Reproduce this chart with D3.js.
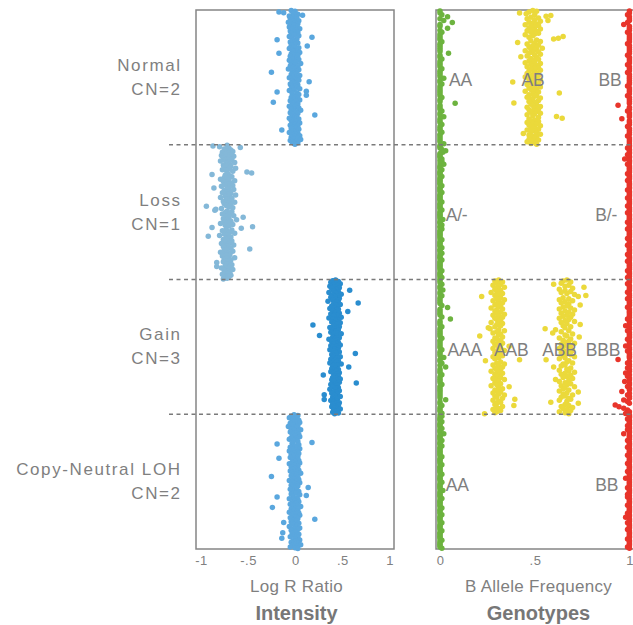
<!DOCTYPE html>
<html>
<head>
<meta charset="utf-8">
<script src="https://cdn.jsdelivr.net/npm/d3@7/dist/d3.min.js"></script>
<style>
  body { margin: 0; background: #fff; }
  svg text { font-family: "Liberation Sans", Arial, sans-serif; fill: #7f7f7f; }
</style>
</head>
<body>
<svg id="chart" width="633" height="625"></svg>
<script>
// Copy-number states, top to bottom
const rows = ["normal", "loss", "gain", "loh"];
const rowLabels = [["Normal", "CN=2"], ["Loss", "CN=1"], ["Gain", "CN=3"], ["Copy-Neutral LOH", "CN=2"]];

const lrrTicks = [-1, -0.5, 0, 0.5, 1];
const bafTicks = [0, 0.5, 1];

// Log R Ratio per SNP, in genomic order within each segment
const normalLRR = [
  -.04,.00,-.17,-.12,-.02,.03,.08,-.06,-.01,.02,
  -.05,.01,-.03,.04,-.02,-.07,.00,.03,-.04,-.01,
  .02,-.06,-.02,.05,-.03,.01,-.05,-.02,.03,-.04,
  .00,-.01,.04,-.06,.18,-.03,.02,-.19,-.02,.01,
  -.05,.03,-.02,.00,-.04,.13,-.01,.04,-.06,.02,
  -.03,.01,-.02,.05,-.17,-.04,.00,.03,-.05,-.01,
  .02,-.03,.04,-.06,-.01,.01,-.04,.06,-.02,.00,
  -.05,.03,-.02,.01,-.07,.04,-.03,.02,-.25,-.01,
  .00,-.04,.05,-.02,.02,-.06,.03,-.01,.04,-.03,
  .15,-.02,.01,-.05,.03,-.04,.00,.02,-.03,.05,
  -.01,-.06,.12,-.19,.02,-.03,.04,.12,-.02,.00,
  -.04,.03,-.01,.05,-.05,.01,-.23,-.02,.03,-.03,
  .02,-.06,.00,.04,-.02,-.04,.06,-.01,.01,-.05,
  .03,-.02,.21,-.03,.00,.02,-.06,.04,-.01,-.04,
  .01,-.03,.05,-.02,.00,-.05,.03,-.01,.02,-.04,
  .04,-.14,-.02,.01,-.06,.03,.00,-.03,.05,-.01,
  -.04,.02,-.02,.06,-.05,.01,-.03,.03,-.01,.00
];
const lossLRR = [
  -.72,-.87,-.80,-.58,-.70,-.75,-.68,-.73,-.66,-.77,
  -.71,-.74,-.69,-.78,-.65,-.72,-.76,-.70,-.67,-.74,
  -.79,-.71,-.64,-.73,-.69,-.76,-.72,-.68,-.75,-.63,
  -.70,-.77,-.73,-.66,-.51,-.46,-.71,-.88,-.74,-.69,
  -.67,-.75,-.72,-.79,-.70,-.64,-.76,-.73,-.68,-.71,
  -.74,-.66,-.78,-.70,-.86,-.72,-.65,-.75,-.69,-.73,
  -.77,-.68,-.71,-.63,-.74,-.70,-.79,-.67,-.73,-.72,
  -.69,-.76,-.64,-.71,-.75,-.68,-.73,-.94,-.70,-.66,
  -.78,-.84,-.85,-.72,-.67,-.74,-.69,-.77,-.71,-.65,
  -.73,-.55,-.70,-.76,-.62,-.72,-.68,-.75,-.71,-.79,
  -.66,-.74,-.70,-.45,-.88,-.57,-.73,-.67,-.77,-.72,
  -.69,-.64,-.75,-.71,-.80,-.92,-.68,-.73,-.70,-.76,
  -.72,-.67,-.74,-.69,-.78,-.71,-.65,-.73,-.76,-.70,
  -.68,-.48,-.75,-.72,-.66,-.79,-.71,-.74,-.69,-.73,
  -.77,-.70,-.64,-.72,-.75,-.68,-.71,-.76,-.83,-.69,
  -.73,-.67,-.74,-.83,-.70,-.78,-.72,-.66,-.75,-.71,
  -.69,-.74,-.71,-.77,-.68,-.73,-.70,-.75,-.72,-.76
];
const gainLRR = [
  .43,.40,.46,.38,.44,.48,.41,.45,.37,.42,
  .47,.39,.44,.58,.41,.46,.36,.43,.49,.40,
  .45,.42,.38,.47,.43,.40,.46,.35,.44,.67,
  .41,.48,.43,.39,.45,.42,.37,.46,.44,.40,
  .56,.43,.47,.38,.42,.45,.41,.49,.36,.44,
  .40,.46,.43,.39,.48,.42,.45,.19,.41,.47,
  .37,.44,.42,.46,.40,.43,.38,.45,.49,.41,
  .26,.44,.40,.47,.43,.36,.45,.42,.39,.46,
  .43,.41,.48,.38,.44,.40,.46,.42,.37,.45,
  .41,.47,.43,.64,.39,.44,.42,.48,.40,.45,
  .38,.43,.46,.41,.44,.37,.49,.42,.45,.40,
  .57,.43,.39,.46,.42,.44,.38,.47,.41,.45,
  .30,.42,.46,.40,.43,.48,.39,.44,.41,.47,
  .65,.43,.38,.45,.42,.40,.46,.44,.37,.43,
  .47,.41,.44,.39,.45,.31,.42,.48,.40,.43,
  .45,.31,.38,.44,.41,.47,.43,.40,.46,.42,
  .39,.44,.42,.48,.41,.45,.43,.40,.46,.42
];
const lohLRR = [
  -.01,.03,-.04,.01,-.06,.02,-.02,.04,-.03,.00,
  .05,-.05,.01,-.02,.03,-.07,.00,.02,-.04,.06,
  -.01,.03,-.05,.01,-.03,.04,-.02,.00,.05,-.04,
  .02,-.06,.01,-.02,.03,.18,-.03,-.19,.04,-.01,
  .00,-.05,.02,.05,-.03,.01,-.06,.03,-.02,.04,
  -.04,.01,-.01,.03,-.05,-.17,.02,-.02,.04,.00,
  -.03,.05,-.06,.01,-.01,.03,-.04,.02,.00,-.02,
  .04,-.05,.01,-.03,.06,-.01,.02,-.04,-.25,.03,
  -.02,.00,.04,-.06,.01,-.03,.05,-.01,.02,-.04,
  .03,-.02,.14,.00,-.05,.02,-.03,.04,-.01,.01,
  -.04,.05,.12,-.02,-.19,.02,-.06,.03,-.01,.00,
  .04,-.03,.01,-.05,.02,-.02,.06,-.24,.00,-.04,
  .03,-.01,.02,-.06,.04,.00,-.03,.05,-.02,.01,
  -.05,.03,.21,-.01,.02,-.04,-.12,.04,-.03,.00,
  .02,-.06,.01,.05,-.02,.03,-.04,.00,.01,-.13,
  -.03,.04,-.01,.02,-.05,.03,-.14,.00,.05,-.02,
  .01,-.04,.03,-.01,.06,-.03,.02,-.05,.00,.03
];

// B Allele Frequency per SNP, grouped by genotype call
const normalAA = [
  0,0,.01,.04,0,.02,.065,0,0,.04,
  0,.01,0,0,0,0,.01,0,0,0,
  0,0,.045,0,0,.01,0,0,0,0,
  .01,0,0,0,0,.02,0,0,.01,0,
  0,0,0,0,0,.01,0,0,.08,0,
  0,0,.01,0,0,.02,0,0,0,.01,
  0,0,0,.01,0,0,0,0,0,.02
];
const normalAB = [
  .49,.51,.47,.42,.455,.50,.585,.56,.48,.52,
  .46,.50,.57,.53,.47,.49,.51,.45,.52,.48,
  .50,.47,.53,.49,.46,.51,.48,.52,.50,.45,
  .49,.65,.47,.625,.60,.51,.48,.53,.41,.50,
  .46,.52,.49,.47,.51,.54,.48,.50,.45,.52,
  .49,.47,.53,.50,.46,.427,.51,.48,.52,.49,
  .47,.50,.45,.53,.48,.51,.49,.46,.52,.50,
  .48,.53,.47,.50,.51,.46,.49,.52,.48,.45,
  .51,.49,.47,.53,.50,.384,.48,.52,.46,.50,
  .49,.53,.47,.51,.48,.50,.45,.52,.63,.49,
  .47,.51,.50,.46,.53,.48,.49,.52,.47,.50,
  .39,.48,.51,.49,.53,.46,.50,.52,.47,.49,
  .51,.48,.53,.50,.46,.49,.615,.52,.645,.47,
  .50,.48,.52,.46,.49,.51,.47,.53,.50,.48,
  .49,.52,.46,.50,.48,.51,.44,.53,.47,.49,
  .51,.48,.50,.47,.52,.49,.46,.50,.48,.51
];
const normalBB = [
  1,1,.99,1,1,1,.99,.97,1,1,
  1,.99,1,1,1,1,1,.99,1,1,
  1,1,1,.99,1,1,1,1,.99,1,
  1,1,.99,1,1,1,1,1,1,.99,
  1,1,1,1,.99,1,1,1,1,.94,
  1,1,.99,1,1,1,.96,1,1,1,
  .99,1,1,1,1,.99,1,1,1,1
];
const lossA = [
  0,0,0,.01,.03,.015,0,0,0,0,
  .01,0,.01,0,.02,0,0,0,.01,0,
  0,0,0,.01,0,0,0,0,0,0,
  .01,0,0,0,0,.01,0,0,0,0,
  0,0,.01,0,0,0,0,0,.01,0,
  0,0,0,0,0,.015,0,0,0,.01,
  0,0,.01,0,0,0,0,0,0,0,
  .01,0,0,0,0,0,.01,0,0,0,
  .01,0,0,0,0,.01,0,0,0,0,
  0,0,0,.01,0,0,0,0,.01,0
];
const lossB = [
  1,1,.99,1,1,1,1,.99,1,1,
  .975,1,1,1,.99,1,1,1,1,1,
  1,.99,1,1,1,1,.99,1,1,1,
  1,1,1,.99,1,1,1,1,1,.99,
  1,1,1,1,1,.99,1,1,1,1,
  .99,1,1,1,1,1,1,.99,1,1,
  1,1,.99,1,1,1,1,1,1,.99,
  1,1,1,1,.99,1,1,1,1,1,
  1,.99,1,1,1,1,.99,1,1,1,
  1,1,1,.99,1,1,1,1,.99,1
];
const gainAAA = [
  0,0,.01,0,0,.015,0,0,.01,0,
  0,0,0,.01,.04,0,0,0,0,.01,
  .055,0,0,0,.01,0,0,0,0,0,
  .01,0,0,0,0,0,.01,0,0,0,
  .02,0,0,.01,0,.03,0,0,0,.01,
  0,0,0,0,.01,0,0,0,0,0,
  0,0,.03,0,0,.01,0,0,0,.01
];
const gainAAB = [
  .31,.29,.33,.30,.32,.28,.31,.34,.30,.29,
  .32,.30,.27,.33,.31,.29,.22,.32,.30,.34,
  .28,.31,.33,.30,.29,.32,.31,.27,.33,.30,
  .29,.32,.30,.34,.28,.31,.33,.29,.30,.32,
  .31,.27,.33,.30,.32,.29,.255,.265,.31,.34,
  .30,.28,.32,.31,.21,.33,.29,.30,.32,.28,
  .31,.33,.29,.30,.365,.32,.28,.31,.34,.30,
  .29,.32,.30,.33,.28,.31,.29,.42,.24,.32,
  .30,.34,.28,.31,.33,.29,.32,.30,.27,.31,
  .33,.29,.31,.30,.32,.28,.34,.30,.31,.29,
  .32,.30,.27,.365,.31,.33,.29,.30,.32,.28,
  .31,.34,.29,.30,.33,.395,.28,.31,.32,.30,
  .29,.39,.33,.30,.31,.28,.32,.30,.29,.235
];
const gainABB = [
  .67,.65,.69,.64,.60,.68,.66,.76,.70,.63,
  .66,.69,.64,.67,.71,.77,.73,.65,.68,.63,
  .70,.66,.64,.68,.74,.67,.65,.69,.63,.71,
  .66,.68,.64,.70,.67,.65,.69,.63,.68,.66,
  .71,.64,.67,.74,.65,.69,.66,.555,.61,.68,
  .64,.595,.70,.66,.67,.735,.63,.69,.65,.68,
  .66,.71,.64,.67,.69,.65,.63,.68,.70,.66,
  .64,.67,.69,.65,.71,.66,.63,.56,.68,.67,
  .70,.65,.66,.64,.60,.69,.67,.63,.68,.71,
  .66,.64,.69,.67,.65,.70,.61,.68,.63,.66,
  .69,.67,.64,.71,.66,.65,.68,.63,.73,.67,
  .65,.70,.66,.64,.68,.69,.63,.67,.585,.73,
  .66,.68,.64,.70,.65,.67,.69,.63,.66,.68
];
const gainBBB = [
  1,1,.99,1,1,1,1,.99,1,1,
  1,.99,1,1,1,1,.99,1,1,1,
  1,1,1,.99,1,1,1,.98,1,1,
  .99,1,1,1,1,.99,1,1,1,.98,
  1,1,.99,1,1,1,1,.94,1,.99,
  1,1,.99,1,1,.98,1,.99,1,1,
  .975,1,1,.99,1,1,.96,1,.99,1,
  1,.97,.99,1,.925,.945,.97,.99,1,.98
];
const lohAA = [
  0,.01,0,0,0,.01,0,0,0,0,
  .01,0,0,0,.02,0,0,0,0,.01,
  0,0,0,.01,0,0,0,0,0,0,
  0,.01,0,0,0,0,0,.01,0,0,
  0,0,0,0,.01,0,0,0,0,0,
  .01,0,0,0,0,0,.015,0,0,0,
  0,0,.01,0,0,0,0,0,0,.01,
  0,0,0,0,.01,0,0,0,0,0,
  .01,0,0,0,0,0,.01,0,0,0,
  0,0,0,.01,0,0,0,0,0,.01
];
const lohBB = [
  1,1,1,.99,1,1,1,1,.99,1,
  1,.99,1,1,.97,1,1,1,1,.99,
  1,1,1,1,.99,1,1,1,1,1,
  .99,1,1,1,1,1,.99,1,1,1,
  1,1,.99,1,1,1,1,.98,1,1,
  1,1,1,1,.99,1,1,1,1,.99,
  1,.99,1,1,1,1,1,.99,1,1,
  1,1,1,.99,1,1,.98,1,1,1,
  .99,1,1,1,1,.99,1,1,1,1,
  1,1,.99,1,1,1,1,1,.99,1
];

// Genotype labels written across each segment of the BAF panel
const genotypeLabels = [
  ["AA", "AB", "BB"],
  ["A/-", "B/-"],
  ["AAA", "AAB", "ABB", "BBB"],
  ["AA", "BB"]
];

// ---- styling / layout ----
const C = {
  blue: "#5aa7de", lightBlue: "#84b8d8", darkBlue: "#2a8dcf",
  green: "#6db33f", yellow: "#ebd93b", red: "#e8352b",
  frame: "#858585", dash: "#7a7a7a", text: "#808080"
};
const lrrSeries = [
  { row: "normal", values: normalLRR, color: C.blue },
  { row: "loss",   values: lossLRR,   color: C.lightBlue },
  { row: "gain",   values: gainLRR,   color: C.darkBlue },
  { row: "loh",    values: lohLRR,    color: C.blue }
];
const bafSeries = [
  { row: "normal", values: normalAA, color: C.green },
  { row: "normal", values: normalAB, color: C.yellow },
  { row: "normal", values: normalBB, color: C.red },
  { row: "loss",   values: lossA,    color: C.green },
  { row: "loss",   values: lossB,    color: C.red },
  { row: "gain",   values: gainAAA,  color: C.green },
  { row: "gain",   values: gainAAB,  color: C.yellow },
  { row: "gain",   values: gainABB,  color: C.yellow },
  { row: "gain",   values: gainBBB,  color: C.red },
  { row: "loh",    values: lohAA,    color: C.green },
  { row: "loh",    values: lohBB,    color: C.red }
];
// left edge of each genotype label, in BAF units
const genotypeLabelAt = [
  [0.048, 0.43, 0.837],
  [0.03, 0.82],
  [0.04, 0.285, 0.54, 0.77],
  [0.03, 0.82]
];

const svg = d3.select("#chart");
const plotTop = 10, plotBottom = 549;
const R = 2.75;

const yRow = d3.scaleBand().domain(rows).range([plotTop, plotBottom]).paddingInner(0);
const xL = d3.scaleLinear().domain([-1.05, 1.05]).range([196, 394]);
const xR = d3.scaleLinear().domain([-0.021, 1.04]).range([436, 637]);

// panel frames
[xL, xR].forEach(x => {
  svg.append("rect").attr("x", x.range()[0]).attr("y", plotTop)
    .attr("width", x.range()[1] - x.range()[0]).attr("height", plotBottom - plotTop)
    .attr("fill", "none").attr("stroke", C.frame).attr("stroke-width", 1.5);
});

function drawStrip(series, x) {
  series.forEach(s => {
    const band = yRow(s.row);
    const yi = d3.scaleLinear().domain([0, s.values.length]).range([band, band + yRow.bandwidth()]);
    svg.append("g").selectAll("circle").data(s.values).join("circle")
      .attr("cx", d => x(d))
      .attr("cy", (d, i) => yi(i + 0.5))
      .attr("r", R)
      .attr("fill", s.color);
  });
}
drawStrip(lrrSeries, xL);
drawStrip(bafSeries, xR);

// dashed separators between segments
svg.append("g").selectAll("line").data(rows.slice(1)).join("line")
  .attr("x1", 169).attr("x2", 633)
  .attr("y1", d => yRow(d)).attr("y2", d => yRow(d))
  .attr("stroke", C.dash).attr("stroke-width", 1.3)
  .attr("stroke-dasharray", "4,3.5");

// segment labels
rows.forEach((r, i) => {
  const cy = yRow(r) + yRow.bandwidth() / 2;
  const t = svg.append("text").attr("text-anchor", "end")
    .style("font-size", "17px").style("letter-spacing", "1.6px");
  t.append("tspan").attr("x", 181.6).attr("y", cy - 6.5).text(rowLabels[i][0]);
  t.append("tspan").attr("x", 181.6).attr("y", cy + 17.5).text(rowLabels[i][1]);

  genotypeLabels[i].forEach((g, j) => {
    svg.append("text").attr("x", xR(genotypeLabelAt[i][j])).attr("y", cy + 9)
      .style("font-size", "17.5px").style("letter-spacing", "-0.2px")
      .text(g);
  });
});

// axes
const fmt = d => d === 0 ? "0" : String(d).replace("0.", ".");
function axis(x, ticks) {
  const g = svg.append("g").attr("transform", `translate(0,${plotBottom})`)
    .call(d3.axisBottom(x).tickValues(ticks).tickFormat(fmt).tickSize(0).tickPadding(7));
  g.select(".domain").remove();
  g.selectAll("text").style("font-size", "13px").style("fill", C.text)
    .style("font-family", '"Liberation Sans", Arial, sans-serif').style("letter-spacing", "0.5px")
    .attr("dx", "0.25px");
}
axis(xL, lrrTicks);
axis(xR, bafTicks);

const titles = [
  { x: xL(0) + 1.5, sub: "Log R Ratio", main: "Intensity" },
  { x: xR(0.52), sub: "B Allele Frequency", main: "Genotypes" }
];
titles.forEach(t => {
  svg.append("text").attr("x", t.x).attr("y", 592).attr("text-anchor", "middle")
    .style("font-size", "17px").style("letter-spacing", "0.3px").text(t.sub);
  svg.append("text").attr("x", t.x).attr("y", 620).attr("text-anchor", "middle")
    .style("font-size", "20px").style("font-weight", "bold").style("fill", "#777").text(t.main);
});
</script>
</body>
</html>
